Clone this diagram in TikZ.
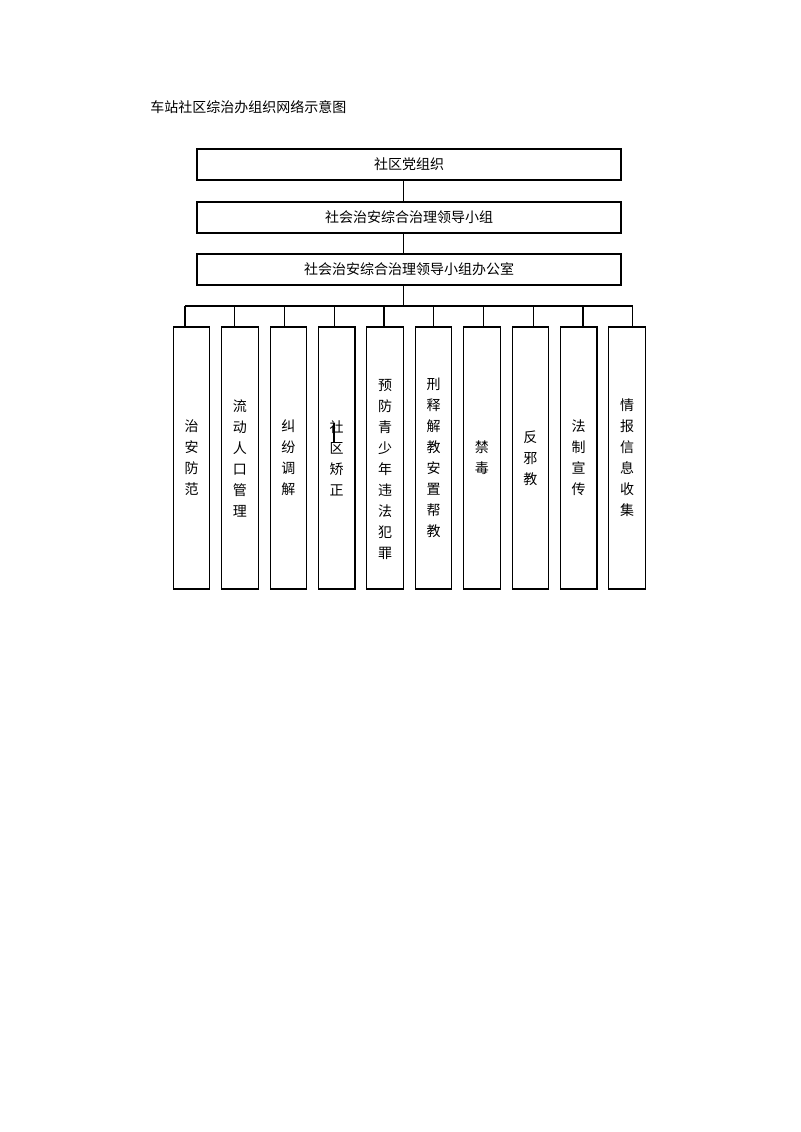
\documentclass[tikz,border=0pt]{standalone}
\usepackage{fontspec}
\setmainfont{Noto Sans CJK SC}
\begin{document}
\begin{tikzpicture}[x=0.75pt,y=-0.75pt,
  conn/.style={line width=0.8pt},
  box/.style={draw, line width=0.8pt, inner sep=0pt},
  txt/.style={font=\fontsize{10.5}{15.75}\selectfont, inner sep=0pt, align=center},
  topbox/.style={box, minimum width=318pt, minimum height=23.25pt, txt},
  colbox/.style={box, minimum width=27.4pt, minimum height=196.5pt}]
\useasboundingbox (0,0) rectangle (800,1132);
\node[txt, anchor=west] (title) at (150,107) {车站社区综治办组织网络示意图};
\node[topbox] (b1) at (409,164.5) {社区党组织};
\node[topbox] (b2) at (409,217.5) {社会治安综合治理领导小组};
\node[topbox] (b3) at (409,269.5) {社会治安综合治理领导小组办公室};
\coordinate (m) at (403.3,306);
\draw[conn] (b1.south -| m) -- (b2.north -| m);
\draw[conn] (b2.south -| m) -- (b3.north -| m);
\draw[conn] (b3.south -| m) -- (m);
\foreach \t/\dy [count=\i from 0] in {治\\安\\防\\范/0, 流\\动\\人\\口\\管\\理/0, 纠\\纷\\调\\解/0, 社\\区\\矫\\正/0, 预\\防\\青\\少\\年\\违\\法\\犯\\罪/11, 刑\\释\\解\\教\\安\\置\\帮\\教/0, 禁\\毒/0, 反\\邪\\教/0, 法\\制\\宣\\传/0, 情\\报\\信\\息\\收\\集/0}{
  \node[colbox] (c\i) at (191.5+48.4*\i,458) {};
  \coordinate (s\i) at (185+49.75*\i,306);
  \draw[conn] (s\i) -- (s\i |- c\i.north);
  \node[txt] (l\i) at ([yshift=-0.75*\dy pt]c\i.center) {\t};
}
\draw[conn] (s0) -- (s9);
\coordinate (k1) at (334,423);
\coordinate (k2) at (334,443);
\draw[conn] (k1) -- (k2);
\end{tikzpicture}
\end{document}
